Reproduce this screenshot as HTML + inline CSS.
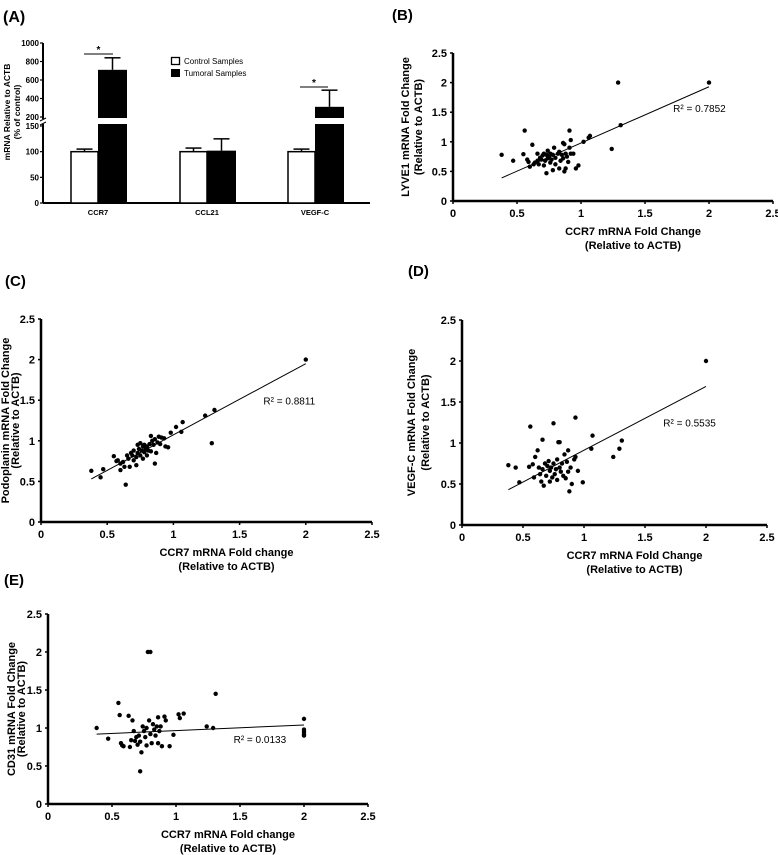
<!DOCTYPE html>
<html><head><meta charset="utf-8"><style>
html,body{margin:0;padding:0;background:#fff;}
svg{display:block;font-family:"Liberation Sans",Arial,sans-serif;}
</style></head><body>
<svg id="fig" width="778" height="855" viewBox="0 0 778 855">
<text x="3" y="22" font-size="16" font-weight="bold">(A)</text>
<text x="392" y="20" font-size="15" font-weight="bold">(B)</text>
<text x="5" y="286" font-size="15" font-weight="bold">(C)</text>
<text x="408" y="276" font-size="15" font-weight="bold">(D)</text>
<text x="4" y="585" font-size="15" font-weight="bold">(E)</text>
</svg>
<script>
const NS='http://www.w3.org/2000/svg';
const svg=document.getElementById('fig');
function mk(tag,attrs,parent,txt){const e=document.createElementNS(NS,tag);for(const k in attrs)e.setAttribute(k,attrs[k]);if(txt!==undefined)e.textContent=txt;(parent||svg).appendChild(e);return e;}

/* ---------- Panel A data ---------- */
const barCategories=['CCR7','CCL21','VEGF-C'];
const controlMeans=[100,100,100];
const controlErr=[5,7,5];
const tumorMeans=[710,102,310];
const tumorErr=[130,23,180];
const lowTicks=[0,50,100,150];
const highTicks=[200,400,600,800,1000];

/* ---------- Scatter data ---------- */
const bX=[0.38,0.47,0.56,0.55,0.58,0.59,0.60,0.62,0.63,0.64,0.66,0.66,0.67,0.68,0.69,0.70,0.71,0.71,0.72,0.73,0.73,0.74,0.74,0.75,0.76,0.76,0.77,0.78,0.78,0.79,0.80,0.80,0.82,0.83,0.83,0.84,0.85,0.86,0.86,0.87,0.87,0.88,0.88,0.89,0.90,0.91,0.91,0.92,0.92,0.94,0.96,0.98,1.02,1.06,1.07,1.24,1.29,1.31,2.0];
const bY=[0.78,0.68,1.19,0.79,0.70,0.66,0.58,0.95,0.62,0.65,0.68,0.80,0.62,0.73,0.70,0.77,0.60,0.80,0.68,0.78,0.47,0.85,0.72,0.75,0.65,0.80,0.70,0.52,0.78,0.90,0.73,0.62,0.80,0.55,0.83,0.68,0.78,0.98,0.72,0.96,0.50,0.80,0.55,0.75,0.66,1.19,0.90,0.80,1.03,0.80,0.55,0.60,1.00,1.07,1.10,0.88,2.0,1.28,2.0];
const bFit=[[0.38,0.39],[2.0,1.93]];
const cX=[0.38,0.45,0.47,0.55,0.57,0.58,0.60,0.60,0.62,0.63,0.64,0.65,0.66,0.67,0.68,0.69,0.70,0.70,0.72,0.72,0.73,0.73,0.74,0.75,0.75,0.76,0.77,0.77,0.78,0.78,0.79,0.80,0.80,0.81,0.82,0.83,0.83,0.84,0.85,0.86,0.86,0.87,0.88,0.89,0.90,0.91,0.93,0.94,0.96,0.98,1.02,1.06,1.07,1.24,1.29,1.31,2.0];
const cY=[0.63,0.55,0.65,0.81,0.75,0.76,0.64,0.72,0.74,0.68,0.46,0.82,0.78,0.68,0.85,0.82,0.88,0.76,0.80,0.70,0.95,0.85,0.90,0.97,0.82,0.88,0.93,0.78,0.95,0.86,0.90,0.93,0.82,0.88,0.96,1.06,0.87,1.00,0.95,0.72,1.02,0.85,0.98,1.05,0.96,1.04,1.03,0.93,0.92,1.10,1.17,1.11,1.23,1.31,0.97,1.38,2.0];
const cFit=[[0.38,0.53],[2.0,1.95]];
const dX=[0.38,0.44,0.47,0.55,0.56,0.58,0.59,0.60,0.62,0.63,0.64,0.65,0.66,0.66,0.67,0.68,0.69,0.70,0.71,0.72,0.72,0.73,0.74,0.75,0.75,0.76,0.77,0.78,0.78,0.79,0.80,0.80,0.81,0.82,0.83,0.84,0.85,0.86,0.87,0.87,0.88,0.89,0.90,0.92,0.93,0.93,0.95,0.99,1.06,1.07,1.24,1.29,1.31,2.0];
const dY=[0.73,0.70,0.52,0.71,1.20,0.74,0.58,0.83,0.91,0.70,0.62,0.53,1.04,0.68,0.48,0.75,0.60,0.72,0.78,0.53,0.66,0.70,0.58,1.24,0.75,0.62,0.68,0.80,0.55,1.01,1.01,0.70,0.65,0.75,0.60,0.86,0.57,0.77,0.91,0.65,0.41,0.70,0.50,0.80,1.31,0.83,0.66,0.52,0.93,1.09,0.83,0.93,1.03,2.0];
const dFit=[[0.38,0.43],[2.0,1.69]];
const eX=[0.38,0.47,0.55,0.56,0.57,0.58,0.59,0.63,0.64,0.65,0.66,0.67,0.68,0.69,0.70,0.71,0.72,0.72,0.73,0.74,0.75,0.76,0.77,0.77,0.78,0.79,0.80,0.80,0.81,0.82,0.83,0.84,0.85,0.86,0.86,0.87,0.88,0.89,0.91,0.92,0.95,0.98,1.02,1.03,1.06,1.24,1.29,1.31,2.0,2.0,2.0,2.0,2.0];
const eY=[1.0,0.86,1.33,1.17,0.80,0.77,0.76,1.16,0.75,0.84,1.10,0.96,0.83,0.88,0.78,0.90,0.43,0.82,0.68,1.02,0.96,0.88,1.0,0.77,2.0,1.10,2.0,0.92,0.80,1.05,0.98,0.90,1.02,1.14,0.80,0.96,1.02,0.76,1.15,1.10,0.76,0.91,1.18,1.13,1.19,1.02,1.0,1.45,1.12,0.98,0.95,0.92,0.90];
const eFit=[[0.38,0.92],[2.0,1.04]];
const scatterTicks=[0,0.5,1,1.5,2,2.5];

/* ---------- Panel A drawing ---------- */
(function(){
  const g=mk('g',{});
  
  
  const x0=43,xEnd=370,y0=203,y150=126,y200=117,y1000=43;
  function yS(v){ if(v<=150) return y0-(v/150)*(y0-y150); return y200-(v-200)/800*(y200-y1000); }
  mk('line',{x1:x0,y1:y0,x2:xEnd,y2:y0,stroke:'#000','stroke-width':2},g);
  mk('line',{x1:x0,y1:y0,x2:x0,y2:yS(150)-2,stroke:'#000','stroke-width':2},g);
  mk('line',{x1:x0,y1:yS(200)+2,x2:x0,y2:y1000,stroke:'#000','stroke-width':2},g);
  mk('line',{x1:x0-3,y1:yS(150)-1,x2:x0+3,y2:yS(150)-4,stroke:'#000','stroke-width':1},g);
  mk('line',{x1:x0-3,y1:yS(200)+4,x2:x0+3,y2:yS(200)+1,stroke:'#000','stroke-width':1},g);
  lowTicks.concat(highTicks).forEach(t=>{
    const y=yS(t);
    mk('line',{x1:x0-3,y1:y,x2:x0,y2:y,stroke:'#000','stroke-width':1.2},g);
    const tx=mk('text',{x:x0-4,y:y+3,'font-size':8,'font-weight':'bold','text-anchor':'end'},g,String(t));
    
    
  });
  const yl=mk('text',{transform:'translate(10,112) rotate(-90)','font-size':8.5,'font-weight':'bold','text-anchor':'middle'},g,'mRNA Relative to ACTB');
  
  
  const yl2=mk('text',{transform:'translate(20,112) rotate(-90)','font-size':8.5,'font-weight':'bold','text-anchor':'middle'},g,'(% of control)');
  
  
  const groupX=[71,180,288], bw=27;
  barCategories.forEach((c,i)=>{
    const gx=groupX[i];
    const cy=yS(controlMeans[i]);
    const ce=yS(controlMeans[i]+controlErr[i]);
    mk('line',{x1:gx+bw/2,y1:cy,x2:gx+bw/2,y2:ce,stroke:'#000','stroke-width':1.5},g);
    mk('line',{x1:gx+bw/2-8,y1:ce,x2:gx+bw/2+8,y2:ce,stroke:'#000','stroke-width':1.5},g);
    const cb=mk('rect',{x:gx,y:cy,width:bw,height:y0-cy,fill:'#fff',stroke:'#000','stroke-width':1.5},g);
    
    
    const tx=gx+bw;
    const ty=yS(tumorMeans[i]);
    const te=yS(tumorMeans[i]+tumorErr[i]);
    mk('line',{x1:tx+bw/2+1,y1:ty,x2:tx+bw/2+1,y2:te,stroke:'#000','stroke-width':1.5},g);
    mk('line',{x1:tx+bw/2-7,y1:te,x2:tx+bw/2+9,y2:te,stroke:'#000','stroke-width':1.5},g);
    const tb=mk('rect',{x:tx,y:ty,width:bw+2,height:y0-ty,fill:'#000'},g);
    
    
    if(tumorMeans[i]>150){
      mk('rect',{x:tx-1,y:yS(200)+1,width:bw+4,height:yS(150)-yS(200)-3,fill:'#fff'},g);
    }
    const lab=mk('text',{x:gx+bw,y:y0+12,'font-size':7.5,'font-weight':'bold','text-anchor':'middle'},g,c);
    
    
  });
  [[84,113,54],[300,328,87]].forEach(s=>{
    mk('line',{x1:s[0],y1:s[2],x2:s[1],y2:s[2],stroke:'#000','stroke-width':1},g);
    const st=mk('text',{x:(s[0]+s[1])/2,y:s[2]-1,'font-size':10,'font-weight':'bold','text-anchor':'middle'},g,'*');
    
    
  });
  const lg=mk('g',{},g);
  
  
  mk('rect',{x:171.5,y:57.5,width:8,height:7,fill:'#fff',stroke:'#000','stroke-width':1.3},lg);
  mk('text',{x:184,y:64,'font-size':8},lg,'Control Samples');
  mk('rect',{x:171,y:69,width:9,height:8,fill:'#000'},lg);
  mk('text',{x:184,y:76,'font-size':8},lg,'Tumoral Samples');
})();

/* ---------- Scatter panels ---------- */
function scatter(name,xs,ys,fit,geo,r2,r2pos,ytitle,xtitle,yOff){
  const g=mk('g',{});
  
  
  const {x0,y0,xEnd,yTop}=geo;
  const xS=v=>x0+v/2.5*(xEnd-x0);
  const yS=v=>y0-v/2.5*(y0-yTop);
  mk('line',{x1:x0,y1:y0,x2:xEnd,y2:y0,stroke:'#000','stroke-width':2.5},g);
  mk('line',{x1:x0,y1:y0,x2:x0,y2:yTop,stroke:'#000','stroke-width':2.5},g);
  scatterTicks.forEach(t=>{
    mk('line',{x1:x0-3,y1:yS(t),x2:x0,y2:yS(t),stroke:'#000','stroke-width':1.5},g);
    mk('line',{x1:xS(t),y1:y0,x2:xS(t),y2:y0+3,stroke:'#000','stroke-width':1.5},g);
    const yl=mk('text',{x:x0-6,y:yS(t)+4,'font-size':11,'font-weight':'bold','text-anchor':'end'},g,String(t));
    
    
    const xl=mk('text',{x:xS(t),y:y0+16,'font-size':11,'font-weight':'bold','text-anchor':'middle'},g,String(t));
    
    
  });
  const ln=mk('line',{x1:xS(fit[0][0]),y1:yS(fit[0][1]),x2:xS(fit[1][0]),y2:yS(fit[1][1]),stroke:'#000','stroke-width':1},g);
  
  
  xs.forEach((x,i)=>{
    const c=mk('circle',{cx:xS(x),cy:yS(ys[i]),r:2.2,fill:'#000'},g);
    
    
  });
  const rt=mk('text',{x:xS(r2pos[0]),y:yS(r2pos[1]),'font-size':10},g,'R² = '+r2);
  
  
  const cx=(x0+xEnd)/2+20;
  const t1=mk('text',{x:cx,y:y0+34,'font-size':11,'font-weight':'bold','text-anchor':'middle'},g,xtitle);
  
  
  const t2=mk('text',{x:cx,y:y0+48,'font-size':11,'font-weight':'bold','text-anchor':'middle'},g,'(Relative to ACTB)');
  
  
  const cy=(y0+yTop)/2;
  const a1=mk('text',{transform:`translate(${x0-yOff[0]},${cy}) rotate(-90)`,'font-size':11,'font-weight':'bold','text-anchor':'middle'},g,ytitle);
  
  
  const a2=mk('text',{transform:`translate(${x0-yOff[1]},${cy}) rotate(-90)`,'font-size':11,'font-weight':'bold','text-anchor':'middle'},g,'(Relative to ACTB)');
  
  
}
scatter('scatter-b',bX,bY,bFit,{x0:453,y0:201,xEnd:773,yTop:53},'0.7852',[1.72,1.5],'LYVE1 mRNA Fold Change','CCR7 mRNA Fold Change',[44,31]);
scatter('scatter-c',cX,cY,cFit,{x0:41,y0:522,xEnd:372,yTop:319},'0.8811',[1.68,1.45],'Podoplanin mRNA Fold Change','CCR7 mRNA Fold change',[32,22]);
scatter('scatter-d',dX,dY,dFit,{x0:462,y0:525,xEnd:767,yTop:320},'0.5535',[1.65,1.2],'VEGF-C mRNA Fold Change','CCR7 mRNA Fold Change',[47,33]);
scatter('scatter-e',eX,eY,eFit,{x0:48,y0:804,xEnd:368,yTop:614},'0.0133',[1.45,0.8],'CD31 mRNA Fold Change','CCR7 mRNA Fold change',[33,23]);
</script>
</body></html>
